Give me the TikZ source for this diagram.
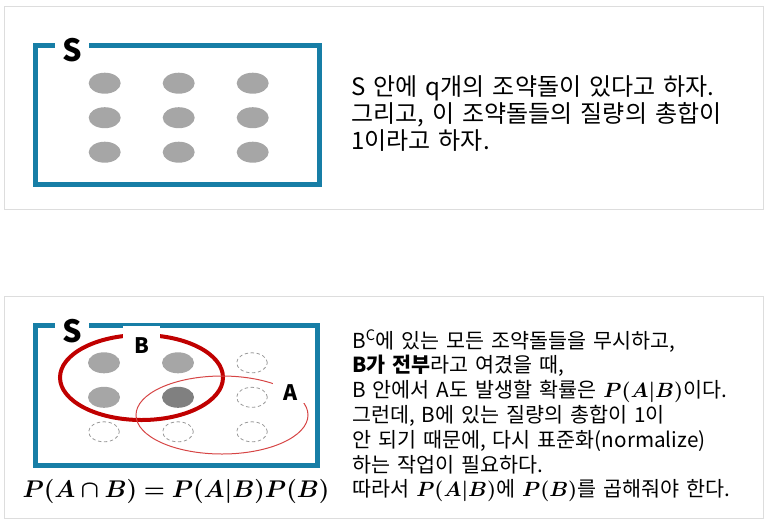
\RequirePackage{fix-cm}
\documentclass[tikz,border=0pt]{standalone}
\usepackage{amsmath,bm}
\usepackage{fontspec}
\setmainfont{Noto Sans CJK KR}[WordSpace=1.5]
\usepackage{tikz}
\usetikzlibrary{shapes.geometric}
\definecolor{frameblue}{HTML}{177EA6}
\definecolor{deepred}{HTML}{C00000}
\definecolor{softred}{HTML}{D64545}
\definecolor{pebblegray}{HTML}{A6A6A6}
\definecolor{panelgray}{HTML}{DDDDDD}

\begin{document}
\begin{tikzpicture}[x=0.75pt,y=-0.75pt,
  panel/.style={draw=panelgray,line width=0.75pt},
  frame/.style={draw=frameblue,line width=3.75pt},
  pebble/.style={ellipse,fill=pebblegray,minimum width=24pt,minimum height=15.75pt,inner sep=0pt},
  inside/.style={pebble,fill=black!50},
  ghost/.style={ellipse,draw=black!40,dash pattern=on 2.5pt off 2pt,line width=0.6pt,
    minimum width=23pt,minimum height=15pt,inner sep=0pt},
  tag/.style={fill=white,font=\bfseries\fontsize{23}{23}\selectfont,inner xsep=5.5pt,inner ysep=1pt},
  setname/.style={fill=white,font=\bfseries\fontsize{16}{16}\selectfont},
  note/.style={align=left,inner sep=0pt,anchor=west}]
\useasboundingbox (0,0) rectangle (771,526);
% upper panel
\draw[panel] (4,6) rectangle (763,209);
\draw[frame] (35.5,45) rectangle (319,184);
\node[tag] (s1) at (72,50.5) {S};
\foreach \r in {1,2,3}{\foreach \c in {1,2,3}{
  \node[pebble] (t\r\c) at (30.7+74*\c,48.7+34.5*\r) {};}}
\node[note,font=\fontsize{18}{20.25}\selectfont] (txt1) at (351,114)
  {S 안에 q개의 조약돌이 있다고 하자.\\그리고, 이 조약돌들의 질량의 총합이\\1이라고 하자.};
% lower panel
\draw[panel] (4,296) rectangle (763,518);
\draw[frame] (35.5,325) rectangle (317.5,465.5);
\node[tag] (s2) at (72,331) {S};
\foreach \r/\c/\kind in {1/1/pebble,1/2/pebble,2/1/pebble,2/2/inside,
  1/3/ghost,2/3/ghost,3/1/ghost,3/2/ghost,3/3/ghost}{
  \node[\kind] (b\r\c) at (30+74*\c,328.3+34.5*\r) {};}
\draw[deepred,line width=3pt] (141.5,377.5) ellipse [x radius=81.5,y radius=42.5];
\draw[softred,line width=0.75pt] (222,415) ellipse [x radius=86,y radius=39];
\node[setname,inner xsep=8.25pt,inner ysep=8.75pt] (setB) at (141.5,345.5) {B};
\node[setname,inner xsep=8pt,inner ysep=1.5pt] (setA) at (291,393) {A};
\node[font=\fontsize{18.1}{22}\selectfont,inner sep=0pt] (rule) at (176,491)
  {$\bm{P(A\cap B)=P(A|B)P(B)}$};
\node[note,font=\fontsize{15.5}{18.6}\selectfont] (txt2) at (352,416)
  {B\textsuperscript{C}에 있는 모든 조약돌들을 무시하고,\\
   \textbf{B가 전부}라고 여겼을 때,\\
   B 안에서 A도 발생할 확률은 $\bm{P(A|B)}$이다.\\
   그런데, B에 있는 질량의 총합이 1이\\
   안 되기 때문에, 다시 표준화(normalize)\\
   하는 작업이 필요하다.\\
   따라서 $\bm{P(A|B)}$에 $\bm{P(B)}$를 곱해줘야 한다.};
\end{tikzpicture}
\end{document}
